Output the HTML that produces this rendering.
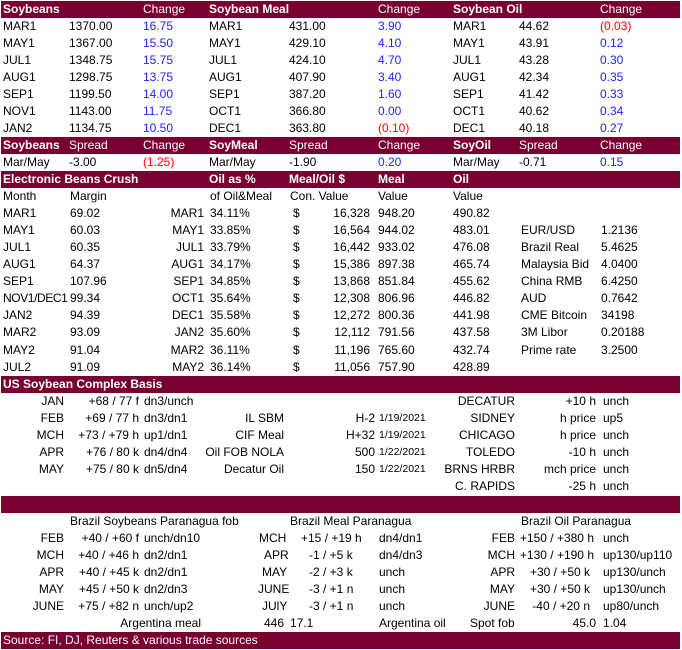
<!DOCTYPE html>
<html><head><meta charset="utf-8"><style>
body{margin:0;width:682px;height:650px;background:#fff;position:relative;overflow:hidden;font-family:"Liberation Sans",Calibri,sans-serif;font-size:12px;color:#000}
.r{position:absolute;left:0;width:682px;height:17px;line-height:17px}
.b{background:#780030;color:#fff;left:1px;width:679px}
.r span{position:absolute;white-space:nowrap}
.bd{font-weight:bold}
.u{color:#2222ff}.d{color:#ff0000}
</style></head><body>

<div class="r b" style="top:1px"><span class="bd" style="left:2px">Soybeans</span><span style="left:142px">Change</span><span class="bd" style="left:208px">Soybean Meal</span><span style="left:377px">Change</span><span class="bd" style="left:452px">Soybean Oil</span><span style="left:599px">Change</span></div>
<div class="r" style="top:18px"><span style="left:3px">MAR1</span><span style="left:69px">1370.00</span><span class="u" style="left:143px">16.75</span><span style="left:209px">MAR1</span><span style="left:289px">431.00</span><span class="u" style="left:378px">3.90</span><span style="left:453px">MAR1</span><span style="left:519px">44.62</span><span class="d" style="left:600px">(0.03)</span></div>
<div class="r" style="top:35px"><span style="left:3px">MAY1</span><span style="left:69px">1367.00</span><span class="u" style="left:143px">15.50</span><span style="left:209px">MAY1</span><span style="left:289px">429.10</span><span class="u" style="left:378px">4.10</span><span style="left:453px">MAY1</span><span style="left:519px">43.91</span><span class="u" style="left:600px">0.12</span></div>
<div class="r" style="top:52px"><span style="left:3px">JUL1</span><span style="left:69px">1348.75</span><span class="u" style="left:143px">15.75</span><span style="left:209px">JUL1</span><span style="left:289px">424.10</span><span class="u" style="left:378px">4.70</span><span style="left:453px">JUL1</span><span style="left:519px">43.28</span><span class="u" style="left:600px">0.30</span></div>
<div class="r" style="top:69px"><span style="left:3px">AUG1</span><span style="left:69px">1298.75</span><span class="u" style="left:143px">13.75</span><span style="left:209px">AUG1</span><span style="left:289px">407.90</span><span class="u" style="left:378px">3.40</span><span style="left:453px">AUG1</span><span style="left:519px">42.34</span><span class="u" style="left:600px">0.35</span></div>
<div class="r" style="top:86px"><span style="left:3px">SEP1</span><span style="left:69px">1199.50</span><span class="u" style="left:143px">14.00</span><span style="left:209px">SEP1</span><span style="left:289px">387.20</span><span class="u" style="left:378px">1.60</span><span style="left:453px">SEP1</span><span style="left:519px">41.42</span><span class="u" style="left:600px">0.33</span></div>
<div class="r" style="top:103px"><span style="left:3px">NOV1</span><span style="left:69px">1143.00</span><span class="u" style="left:143px">11.75</span><span style="left:209px">OCT1</span><span style="left:289px">366.80</span><span class="u" style="left:378px">0.00</span><span style="left:453px">OCT1</span><span style="left:519px">40.62</span><span class="u" style="left:600px">0.34</span></div>
<div class="r" style="top:120px"><span style="left:3px">JAN2</span><span style="left:69px">1134.75</span><span class="u" style="left:143px">10.50</span><span style="left:209px">DEC1</span><span style="left:289px">363.80</span><span class="d" style="left:378px">(0.10)</span><span style="left:453px">DEC1</span><span style="left:519px">40.18</span><span class="u" style="left:600px">0.27</span></div>
<div class="r b" style="top:137px"><span class="bd" style="left:2px">Soybeans</span><span style="left:68px">Spread</span><span style="left:142px">Change</span><span class="bd" style="left:208px">SoyMeal</span><span style="left:288px">Spread</span><span style="left:377px">Change</span><span class="bd" style="left:452px">SoyOil</span><span style="left:518px">Spread</span><span style="left:599px">Change</span></div>
<div class="r" style="top:154px"><span style="left:3px">Mar/May</span><span style="left:69px">-3.00</span><span class="d" style="left:143px">(1.25)</span><span style="left:209px">Mar/May</span><span style="left:289px">-1.90</span><span class="u" style="left:378px">0.20</span><span style="left:453px">Mar/May</span><span style="left:519px">-0.71</span><span class="u" style="left:600px">0.15</span></div>
<div class="r b" style="top:171px"><span class="bd" style="left:2px">Electronic Beans Crush</span><span class="bd" style="left:208px">Oil as %</span><span class="bd" style="left:288px">Meal/Oil $</span><span class="bd" style="left:377px">Meal</span><span class="bd" style="left:452px">Oil</span></div>
<div class="r" style="top:188px"><span style="left:3px">Month</span><span style="left:70px">Margin</span><span style="left:210px">of Oil&amp;Meal</span><span style="left:290px">Con. Value</span><span style="left:378px">Value</span><span style="left:453px">Value</span></div>

<div class="r" style="top:205px"><span style="left:3px">MAR1</span><span style="left:70px">69.02</span><span style="right:478px">MAR1</span><span style="left:210px">34.11%</span><span style="left:293px">$</span><span style="right:312px">16,328</span><span style="left:378px">948.20</span><span style="left:453px">490.82</span></div>
<div class="r" style="top:222px"><span style="left:3px">MAY1</span><span style="left:70px">60.03</span><span style="right:478px">MAY1</span><span style="left:210px">33.85%</span><span style="left:293px">$</span><span style="right:312px">16,564</span><span style="left:378px">944.02</span><span style="left:453px">483.01</span><span style="left:521px">EUR/USD</span><span style="left:601px">1.2136</span></div>
<div class="r" style="top:239px"><span style="left:3px">JUL1</span><span style="left:70px">60.35</span><span style="right:478px">JUL1</span><span style="left:210px">33.79%</span><span style="left:293px">$</span><span style="right:312px">16,442</span><span style="left:378px">933.02</span><span style="left:453px">476.08</span><span style="left:521px">Brazil Real</span><span style="left:601px">5.4625</span></div>
<div class="r" style="top:256px"><span style="left:3px">AUG1</span><span style="left:70px">64.37</span><span style="right:478px">AUG1</span><span style="left:210px">34.17%</span><span style="left:293px">$</span><span style="right:312px">15,386</span><span style="left:378px">897.38</span><span style="left:453px">465.74</span><span style="left:521px">Malaysia Bid</span><span style="left:601px">4.0400</span></div>
<div class="r" style="top:273px"><span style="left:3px">SEP1</span><span style="left:70px">107.96</span><span style="right:478px">SEP1</span><span style="left:210px">34.85%</span><span style="left:293px">$</span><span style="right:312px">13,868</span><span style="left:378px">851.84</span><span style="left:453px">455.62</span><span style="left:521px">China RMB</span><span style="left:601px">6.4250</span></div>
<div class="r" style="top:290px"><span style="left:3px;letter-spacing:-0.4px">NOV1/DEC1</span><span style="left:70px">99.34</span><span style="right:478px">OCT1</span><span style="left:210px">35.64%</span><span style="left:293px">$</span><span style="right:312px">12,308</span><span style="left:378px">806.96</span><span style="left:453px">446.82</span><span style="left:521px">AUD</span><span style="left:601px">0.7642</span></div>
<div class="r" style="top:307px"><span style="left:3px">JAN2</span><span style="left:70px">94.39</span><span style="right:478px">DEC1</span><span style="left:210px">35.58%</span><span style="left:293px">$</span><span style="right:312px">12,272</span><span style="left:378px">800.36</span><span style="left:453px">441.98</span><span style="left:521px">CME Bitcoin</span><span style="left:601px">34198</span></div>
<div class="r" style="top:324px"><span style="left:3px">MAR2</span><span style="left:70px">93.09</span><span style="right:478px">JAN2</span><span style="left:210px">35.60%</span><span style="left:293px">$</span><span style="right:312px">12,112</span><span style="left:378px">791.56</span><span style="left:453px">437.58</span><span style="left:521px">3M Libor</span><span style="left:601px">0.20188</span></div>
<div class="r" style="top:342px"><span style="left:3px">MAY2</span><span style="left:70px">91.04</span><span style="right:478px">MAR2</span><span style="left:210px">36.11%</span><span style="left:293px">$</span><span style="right:312px">11,196</span><span style="left:378px">765.60</span><span style="left:453px">432.74</span><span style="left:521px">Prime rate</span><span style="left:601px">3.2500</span></div>
<div class="r" style="top:359px"><span style="left:3px">JUL2</span><span style="left:70px">91.09</span><span style="right:478px">MAY2</span><span style="left:210px">36.14%</span><span style="left:293px">$</span><span style="right:312px">11,056</span><span style="left:378px">757.90</span><span style="left:453px">428.89</span></div>

<div class="r b" style="top:376px"><span class="bd" style="left:2px">US Soybean Complex Basis</span></div>
<div class="r" style="top:393px"><span style="right:618px">JAN</span><span style="right:543px">+68 / 77 f</span><span style="left:144px">dn3/unch</span><span style="right:167px">DECATUR</span><span style="right:86px">+10 h</span><span style="left:603px">unch</span></div>
<div class="r" style="top:410px"><span style="right:618px">FEB</span><span style="right:543px">+69 / 77 h</span><span style="left:144px">dn3/dn1</span><span style="right:398px">IL SBM</span><span style="right:307px">H-2</span><span style="left:379px;font-size:10.5px">1/19/2021</span><span style="right:167px">SIDNEY</span><span style="right:86px">h price</span><span style="left:603px">up5</span></div>
<div class="r" style="top:427px"><span style="right:618px">MCH</span><span style="right:543px">+73 / +79 h</span><span style="left:144px">up1/dn1</span><span style="right:398px">CIF Meal</span><span style="right:307px">H+32</span><span style="left:379px;font-size:10.5px">1/19/2021</span><span style="right:167px">CHICAGO</span><span style="right:86px">h price</span><span style="left:603px">unch</span></div>
<div class="r" style="top:444px"><span style="right:618px">APR</span><span style="right:543px">+76 / 80 k</span><span style="left:144px">dn4/dn4</span><span style="right:398px">Oil FOB NOLA</span><span style="right:307px">500</span><span style="left:379px;font-size:10.5px">1/22/2021</span><span style="right:167px">TOLEDO</span><span style="right:86px">-10 h</span><span style="left:603px">unch</span></div>
<div class="r" style="top:461px"><span style="right:618px">MAY</span><span style="right:543px">+75 / 80 k</span><span style="left:144px">dn5/dn4</span><span style="right:398px">Decatur Oil</span><span style="right:307px">150</span><span style="left:379px;font-size:10.5px">1/22/2021</span><span style="right:167px">BRNS HRBR</span><span style="right:86px">mch price</span><span style="left:603px">unch</span></div>
<div class="r" style="top:478px"><span style="right:167px">C. RAPIDS</span><span style="right:86px">-25 h</span><span style="left:603px">unch</span></div>
<div class="r b" style="top:496px"></div>

<div class="r" style="top:513px"><span style="left:70px">Brazil Soybeans Paranagua fob</span><span style="left:290px">Brazil Meal Paranagua</span><span style="left:521px">Brazil Oil Paranagua</span></div>
<div class="r" style="top:530px"><span style="right:618px">FEB</span><span style="right:543px">+40 / +60 f</span><span style="left:144px">unch/dn10</span><span style="left:259px">MCH</span><span style="left:301px">+15 / +19 h</span><span style="left:379px">dn4/dn1</span><span style="right:167px">FEB</span><span style="right:88px">+150 / +380 h</span><span style="left:603px">unch</span></div>
<div class="r" style="top:547px"><span style="right:618px">MCH</span><span style="right:543px">+40 / +46 h</span><span style="left:144px">dn2/dn1</span><span style="left:264px">APR</span><span style="left:309px">-1 / +5 k</span><span style="left:379px">dn4/dn3</span><span style="right:167px">MCH</span><span style="right:88px">+130 / +190 h</span><span style="left:603px">up130/up110</span></div>
<div class="r" style="top:564px"><span style="right:618px">APR</span><span style="right:543px">+40 / +45 k</span><span style="left:144px">dn2/dn1</span><span style="left:262px">MAY</span><span style="left:309px">-2 / +3 k</span><span style="left:379px">unch</span><span style="right:167px">APR</span><span style="right:92px">+30 / +50 k</span><span style="left:603px">up130/unch</span></div>
<div class="r" style="top:581px"><span style="right:618px">MAY</span><span style="right:543px">+45 / +50 k</span><span style="left:144px">dn2/dn3</span><span style="left:258px">JUNE</span><span style="left:309px">-3 / +1 n</span><span style="left:379px">unch</span><span style="right:167px">MAY</span><span style="right:92px">+30 / +50 k</span><span style="left:603px">up130/unch</span></div>
<div class="r" style="top:598px"><span style="right:618px">JUNE</span><span style="right:543px">+75 / +82 n</span><span style="left:144px">unch/up2</span><span style="left:262px">JUlY</span><span style="left:309px">-3 / +1 n</span><span style="left:379px">unch</span><span style="right:167px">JUNE</span><span style="right:92px">-40 / +20 n</span><span style="left:603px">up80/unch</span></div>
<div class="r" style="top:615px"><span style="right:481px">Argentina meal</span><span style="right:398px">446</span><span style="left:290px">17.1</span><span style="left:379px">Argentina oil</span><span style="left:470px">Spot fob</span><span style="right:86px">45.0</span><span style="left:603px">1.04</span></div>
<div class="r b" style="top:632px"><span style="left:2px">Source: FI, DJ, Reuters &amp; various trade sources</span></div>
</body></html>
